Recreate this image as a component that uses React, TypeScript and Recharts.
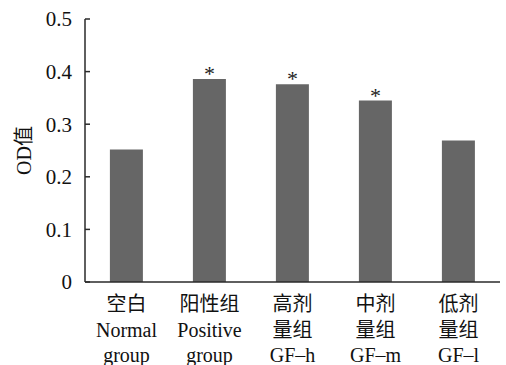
import React from 'react';
import { BarChart, Bar, XAxis, YAxis, LabelList } from 'recharts';

const categories = ['空白', '阳性组', '高剂', '中剂', '低剂'];
const labelLine2 = ['Normal', 'Positive', '量组', '量组', '量组'];
const labelLine3 = ['group', 'group', 'GF–h', 'GF–m', 'GF–l'];
const odValues = [0.252, 0.386, 0.376, 0.345, 0.269];
const significance = ['', '*', '*', '*', ''];
const yTicks = [0, 0.1, 0.2, 0.3, 0.4, 0.5];

const data = categories.map((c, i) => ({
  name: c,
  l2: labelLine2[i],
  l3: labelLine3[i],
  od: odValues[i],
  sig: significance[i],
}));

const FONT = '"Liberation Serif", "Noto Sans CJK SC", serif';
const AXIS = '#2a2a2a';

const XTick = (props: any) => {
  const { x, y, payload, index } = props;
  const i = index ?? categories.indexOf(payload.value);
  return (
    <text x={x} y={y} textAnchor="middle" fontFamily={FONT} fontSize={20} fill="#111">
      <tspan x={x} dy={29}>{payload.value}</tspan>
      <tspan x={x} dy={26}>{labelLine2[i]}</tspan>
      <tspan x={x} dy={25}>{labelLine3[i]}</tspan>
    </text>
  );
};

const YTick = (props: any) => {
  const { x, y, payload } = props;
  return (
    <g>
      <line x1={x + 13} x2={x + 18} y1={y} y2={y} stroke={AXIS} strokeWidth={1.5} />
      <text x={x} y={y} dy="0.35em" textAnchor="end" fontFamily={FONT} fontSize={21} fill="#111">
        {String(payload.value)}
      </text>
    </g>
  );
};

const YLabel = (props: any) => {
  const vb = props.viewBox || {};
  const cx = (vb.x ?? 0) + 24;
  const cy = (vb.y ?? 0) + (vb.height ?? 0) / 2;
  return (
    <text
      x={cx}
      y={cy}
      transform={`rotate(-90, ${cx}, ${cy})`}
      textAnchor="middle"
      dominantBaseline="central"
      fontFamily={FONT}
      fontSize={20}
      fill="#111"
    >
      OD值
    </text>
  );
};

const SigLabel = (props: any) => {
  const { x, y, width, value } = props;
  if (!value) return null;
  return (
    <text x={x + width / 2} y={y + 2} textAnchor="middle" fontFamily={FONT} fontSize={22} fill="#222">
      {value}
    </text>
  );
};

export default function App() {
  return (
    <div style={{ position: 'absolute', left: 0, top: 0, background: '#fff' }}>
      <BarChart
        width={506}
        height={365}
        data={data}
        margin={{ top: 19, right: 6, bottom: 0, left: 0 }}
        barCategoryGap="30%"
      >
        <XAxis
          dataKey="name"
          height={83}
          interval={0}
          tickLine={false}
          tickSize={0}
          tickMargin={0}
          axisLine={{ stroke: AXIS, strokeWidth: 1.5 }}
          tick={<XTick />}
        />
        <YAxis
          width={85}
          domain={[0, 0.5]}
          ticks={yTicks}
          tickLine={false}
          tickSize={0}
          tickMargin={13}
          axisLine={{ stroke: AXIS, strokeWidth: 1.5 }}
          tick={<YTick />}
          label={{ content: <YLabel /> }}
        />
        <Bar dataKey="od" fill="#666666" isAnimationActive={false}>
          <LabelList dataKey="sig" content={<SigLabel />} />
        </Bar>
      </BarChart>
    </div>
  );
}
